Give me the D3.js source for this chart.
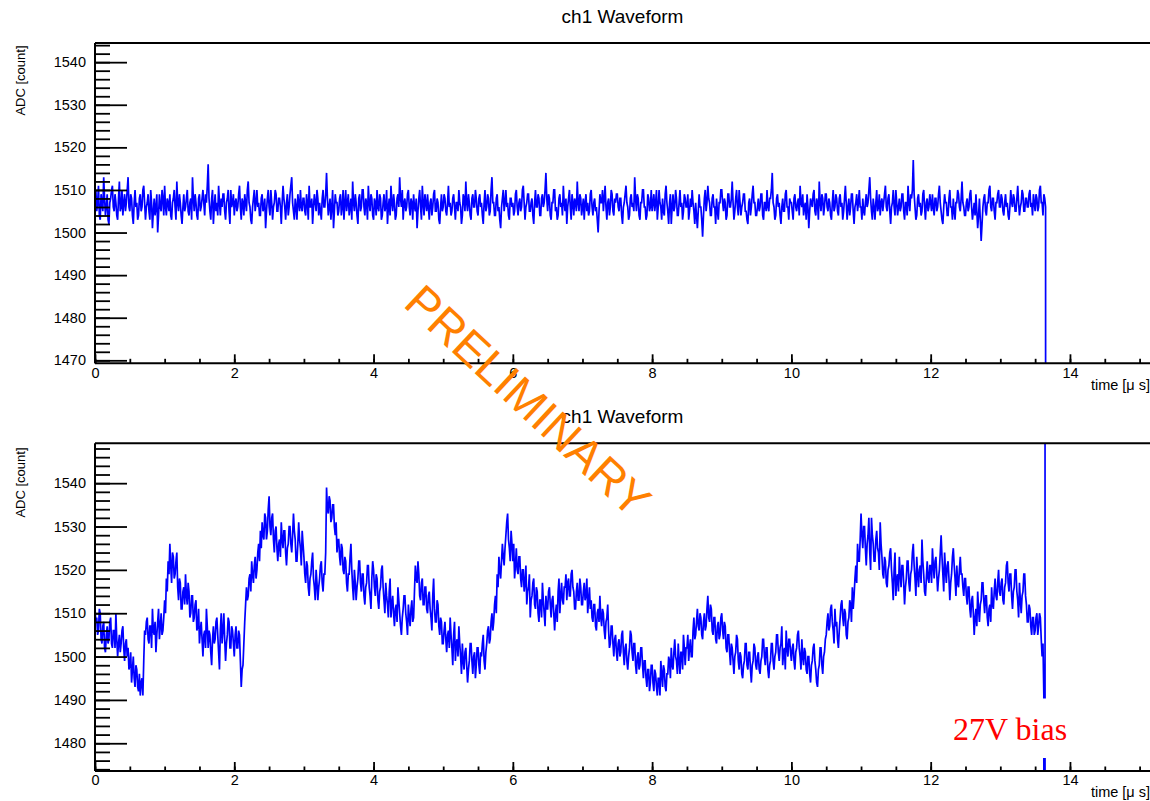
<!DOCTYPE html>
<html>
<head>
<meta charset="utf-8">
<title>ch1 Waveform</title>
<script src="https://cdn.jsdelivr.net/npm/d3@7"></script>
<style>
  html, body { margin: 0; padding: 0; background: #fff; }
  svg { display: block; font-family: "Liberation Sans", Arial, Helvetica, sans-serif; }
</style>
</head>
<body>
<svg id="chart" width="1150" height="801"></svg>
<script>
// Sampling period of the digitizer, in microseconds
const SAMPLE_US = 0.0125;

// Axis ranges and tick labels
const TIME_RANGE = [0, 15.6];
const TIME_TICKS = [0, 2, 4, 6, 8, 10, 12, 14];
const TOP_ADC_RANGE = [1469.3, 1544.5];
const TOP_ADC_TICKS = [1470, 1480, 1490, 1500, 1510, 1520, 1530, 1540];
const BOTTOM_ADC_RANGE = [1473.6, 1549.2];
const BOTTOM_ADC_TICKS = [1480, 1490, 1500, 1510, 1520, 1530, 1540];

const TITLE = "ch1 Waveform";
const X_TITLE = "time [\u03bc s]";
const Y_TITLE = "ADC [count]";
const BIAS_LABEL = "27V bias";
const WATERMARK = "PRELIMINARY";

// ch1 samples, upper waveform (ADC counts), 40 samples per 0.5 us row
const ch1Upper = [
  1508,1510,1505,1507,1511,1504,1503,1509,1507,1505,1513,1508,1504,1506,1509,1503,1502,1507,1508,1510,
  1511,1506,1505,1509,1507,1504,1503,1508,1512,1505,1506,1510,1504,1507,1509,1505,1507,1510,1513,1506,
  1505,1509,1508,1504,1502,1507,1510,1506,1507,1503,1504,1508,1509,1505,1506,1510,1511,1507,1503,1506,
  1507,1509,1505,1503,1510,1507,1501,1505,1508,1504,1506,1509,1500,1504,1509,1506,1505,1510,1508,1504,
  1511,1506,1504,1508,1507,1505,1509,1504,1503,1507,1508,1510,1506,1503,1512,1507,1505,1509,1507,1504,
  1502,1506,1509,1505,1506,1508,1510,1505,1504,1507,1508,1503,1513,1508,1505,1509,1507,1504,1503,1508,
  1509,1505,1506,1508,1510,1507,1504,1509,1507,1511,1516,1508,1505,1503,1508,1510,1502,1506,1509,1505,
  1507,1504,1511,1507,1504,1508,1506,1509,1509,1505,1503,1507,1508,1510,1505,1502,1510,1506,1507,1509,
  1504,1507,1508,1505,1506,1509,1511,1506,1503,1508,1507,1504,1509,1507,1505,1510,1512,1507,1506,1503,
  1502,1506,1508,1510,1505,1507,1510,1506,1507,1504,1504,1508,1509,1505,1506,1508,1501,1505,1508,1510,
  1506,1504,1510,1507,1503,1506,1507,1510,1509,1505,1505,1508,1508,1506,1502,1507,1511,1508,1506,1503,
  1507,1509,1504,1506,1509,1511,1513,1507,1505,1503,1508,1506,1503,1509,1507,1505,1510,1506,1505,1508,
  1508,1505,1504,1509,1507,1503,1511,1506,1506,1508,1502,1506,1509,1507,1505,1510,1508,1504,1507,1505,
  1503,1508,1510,1506,1506,1509,1514,1508,1504,1506,1508,1503,1506,1510,1501,1505,1509,1507,1507,1504,
  1505,1508,1509,1504,1506,1510,1503,1507,1510,1505,1507,1509,1504,1506,1508,1503,1512,1507,1505,1509,
  1507,1504,1502,1508,1509,1505,1506,1510,1510,1506,1504,1508,1507,1503,1511,1507,1505,1509,1508,1504,
  1503,1508,1507,1504,1510,1506,1505,1509,1508,1503,1504,1507,1509,1505,1506,1510,1502,1506,1508,1504,
  1511,1507,1505,1509,1507,1503,1504,1508,1509,1506,1513,1508,1506,1510,1503,1507,1508,1505,1506,1509,
  1510,1506,1504,1508,1507,1503,1509,1506,1505,1508,1501,1505,1508,1510,1506,1503,1511,1507,1504,1509,
  1507,1505,1509,1506,1503,1507,1508,1504,1506,1509,1510,1505,1505,1508,1507,1503,1502,1506,1509,1505,
  1506,1509,1508,1505,1504,1507,1511,1506,1507,1504,1505,1508,1509,1506,1503,1507,1507,1505,1510,1507,
  1506,1502,1504,1509,1508,1505,1512,1507,1505,1509,1507,1504,1503,1508,1509,1506,1506,1510,1508,1505,
  1504,1508,1509,1506,1507,1504,1502,1507,1510,1505,1506,1509,1508,1504,1505,1510,1513,1507,1507,1504,
  1504,1508,1509,1505,1506,1503,1501,1506,1508,1510,1505,1507,1510,1506,1507,1504,1503,1508,1508,1506,
  1507,1504,1505,1509,1510,1506,1504,1507,1508,1505,1506,1510,1511,1507,1503,1506,1507,1509,1509,1505,
  1505,1507,1508,1504,1502,1507,1510,1506,1506,1509,1508,1504,1504,1508,1509,1506,1507,1510,1514,1508,
  1505,1509,1508,1504,1503,1507,1507,1510,1510,1505,1506,1503,1504,1508,1509,1506,1507,1504,1511,1507,
  1505,1508,1502,1506,1508,1510,1506,1503,1509,1507,1504,1508,1507,1505,1512,1507,1505,1509,1508,1504,
  1506,1508,1503,1507,1509,1505,1507,1504,1505,1509,1510,1506,1504,1507,1508,1505,1506,1503,1500,1505,
  1509,1507,1507,1510,1505,1508,1511,1506,1503,1507,1508,1504,1506,1510,1509,1505,1504,1508,1507,1509,
  1509,1506,1505,1508,1508,1504,1502,1506,1507,1509,1511,1507,1506,1503,1504,1508,1509,1506,1507,1505,
  1513,1508,1505,1509,1508,1504,1503,1507,1507,1510,1510,1506,1506,1503,1504,1509,1508,1505,1506,1510,
  1505,1507,1509,1505,1507,1510,1503,1506,1510,1507,1506,1503,1508,1505,1504,1509,1511,1507,1505,1502,
  1507,1509,1502,1506,1509,1505,1506,1510,1508,1504,1504,1507,1510,1506,1507,1503,1505,1509,1508,1506,
  1506,1509,1503,1505,1508,1506,1510,1507,1505,1502,1507,1504,1501,1505,1509,1506,1506,1503,1499,1504,
  1508,1510,1505,1507,1511,1508,1507,1504,1504,1508,1509,1506,1506,1502,1508,1505,1503,1507,1507,1510,
  1510,1507,1505,1508,1507,1503,1504,1509,1509,1506,1506,1508,1512,1507,1503,1505,1508,1510,1506,1504,
  1510,1507,1504,1506,1507,1509,1509,1505,1505,1503,1502,1507,1508,1504,1506,1509,1511,1507,1507,1504,
  1504,1506,1508,1505,1506,1509,1509,1504,1503,1507,1507,1505,1510,1506,1505,1508,1508,1510,1514,1507,
  1506,1503,1504,1508,1509,1506,1507,1504,1502,1506,1508,1505,1505,1509,1510,1506,1506,1503,1508,1507,
  1507,1505,1503,1508,1509,1506,1505,1507,1508,1504,1511,1507,1506,1509,1504,1506,1507,1503,1509,1506,
  1501,1505,1508,1507,1506,1509,1510,1505,1504,1508,1507,1503,1512,1507,1505,1509,1508,1504,1506,1509,
  1509,1506,1505,1508,1507,1504,1503,1507,1510,1505,1506,1509,1508,1505,1504,1508,1509,1506,1507,1503,
  1505,1508,1511,1507,1503,1506,1508,1504,1506,1509,1509,1505,1502,1506,1507,1509,1505,1507,1510,1506,
  1506,1503,1508,1505,1504,1507,1509,1506,1507,1510,1513,1508,1505,1503,1508,1506,1503,1507,1510,1505,
  1506,1509,1504,1507,1508,1505,1507,1509,1511,1506,1505,1508,1509,1505,1502,1506,1507,1510,1506,1504,
  1510,1507,1504,1506,1508,1505,1506,1509,1509,1505,1503,1507,1507,1504,1511,1507,1505,1509,1508,1510,
  1517,1509,1506,1503,1504,1508,1509,1506,1507,1504,1505,1509,1510,1506,1503,1507,1508,1505,1506,1509,
  1507,1505,1509,1506,1504,1508,1508,1505,1506,1509,1511,1507,1505,1503,1502,1506,1509,1507,1507,1504,
  1504,1508,1510,1506,1506,1503,1508,1505,1503,1507,1507,1510,1509,1506,1505,1508,1512,1507,1506,1504,
  1504,1507,1508,1505,1506,1509,1510,1506,1503,1505,1507,1504,1509,1505,1501,1504,1508,1503,1498,1502,
  1506,1508,1509,1505,1504,1507,1507,1510,1511,1506,1505,1508,1508,1505,1503,1507,1507,1509,1510,1506,
  1506,1509,1508,1505,1504,1507,1509,1506,1507,1504,1503,1506,1510,1507,1506,1509,1508,1505,1505,1508,
  1511,1507,1504,1506,1507,1510,1509,1505,1505,1508,1508,1506,1506,1509,1510,1506,1507,1504,1509,1507,
  1505,1509,1508,1505,1506,1510,1511,1507,1507,1504,1509,1508,1506,0
];

// ch1 samples, lower waveform (ADC counts), 40 samples per 0.5 us row
const ch1Lower = [
  1511,1508,1509,1505,1506,1511,1510,1504,1503,1507,1508,1502,1501,1505,1507,1503,1504,1508,1509,1503,
  1502,1506,1506,1502,1510,1504,1500,1503,1505,1501,1503,1506,1507,1502,1499,1503,1504,1500,1502,1497,
  1498,1501,1494,1497,1500,1495,1493,1498,1497,1493,1492,1496,1491,1494,1495,1491,1499,1506,1505,1508,
  1509,1504,1503,1507,1507,1502,1511,1506,1505,1508,1501,1505,1508,1511,1504,1507,1510,1505,1506,1509,
  1513,1510,1518,1515,1522,1519,1526,1521,1517,1524,1523,1518,1519,1522,1524,1516,1513,1518,1517,1511,
  1511,1515,1516,1512,1519,1514,1512,1517,1515,1509,1510,1514,1514,1508,1509,1512,1513,1506,1507,1511,
  1503,1506,1508,1504,1500,1505,1506,1502,1511,1507,1502,1506,1505,1501,1498,1504,1507,1503,1504,1508,
  1509,1505,1501,1497,1506,1510,1503,1506,1510,1504,1499,1503,1505,1509,1508,1502,1502,1507,1506,1503,
  1500,1505,1507,1502,1502,1506,1505,1499,1493,1497,1498,1503,1508,1512,1516,1513,1514,1518,1519,1515,
  1522,1519,1517,1521,1523,1518,1520,1524,1526,1522,1529,1525,1531,1528,1527,1533,1532,1527,1529,1534,
  1537,1530,1528,1532,1533,1527,1524,1529,1530,1525,1522,1526,1527,1523,1531,1527,1525,1529,1529,1524,
  1521,1525,1526,1530,1530,1526,1524,1528,1533,1529,1527,1522,1522,1526,1531,1527,1525,1521,1529,1526,
  1523,1519,1517,1522,1521,1516,1514,1518,1519,1522,1524,1518,1516,1513,1520,1517,1513,1516,1518,1521,
  1522,1517,1515,1519,1519,1524,1539,1534,1533,1537,1536,1531,1532,1535,1535,1530,1528,1531,1524,1527,
  1527,1523,1521,1526,1525,1520,1519,1523,1522,1517,1515,1519,1519,1523,1526,1520,1516,1513,1520,1517,
  1513,1516,1518,1522,1522,1517,1515,1519,1519,1514,1512,1516,1517,1521,1521,1516,1514,1511,1518,1522,
  1520,1516,1514,1519,1518,1513,1511,1515,1516,1520,1521,1516,1513,1510,1517,1514,1512,1509,1515,1518,
  1509,1512,1514,1510,1507,1511,1512,1508,1516,1513,1510,1507,1505,1509,1511,1514,1514,1510,1508,1505,
  1512,1509,1507,1511,1513,1508,1509,1515,1521,1518,1517,1522,1519,1514,1513,1517,1518,1512,1512,1516,
  1516,1511,1510,1514,1515,1511,1509,1506,1514,1518,1511,1508,1508,1513,1512,1507,1505,1509,1508,1503,
  1503,1506,1508,1504,1501,1505,1506,1502,1509,1505,1502,1498,1505,1508,1499,1503,1504,1500,1507,1503,
  1500,1496,1503,1499,1497,1501,1502,1498,1494,1497,1499,1503,1503,1499,1496,1500,1501,1495,1498,1502,
  1502,1498,1496,1501,1500,1503,1505,1499,1497,1501,1503,1506,1507,1503,1504,1508,1510,1506,1508,1512,
  1514,1510,1519,1516,1523,1520,1518,1522,1526,1523,1521,1525,1528,1531,1533,1527,1525,1522,1529,1526,
  1522,1526,1518,1521,1525,1520,1519,1523,1523,1518,1516,1520,1520,1515,1517,1521,1512,1515,1516,1519,
  1509,1513,1514,1517,1518,1512,1511,1516,1515,1510,1508,1513,1513,1509,1517,1513,1510,1507,1514,1511,
  1511,1515,1516,1512,1509,1513,1514,1510,1506,1510,1512,1508,1515,1518,1510,1514,1517,1513,1512,1516,
  1516,1519,1513,1517,1518,1514,1514,1519,1520,1516,1515,1511,1511,1515,1517,1513,1513,1518,1516,1512,
  1512,1515,1517,1513,1514,1518,1510,1513,1516,1511,1513,1509,1508,1512,1512,1507,1506,1510,1511,1508,
  1514,1509,1507,1511,1510,1506,1504,1508,1509,1512,1506,1502,1503,1507,1507,1503,1500,1504,1505,1501,
  1499,1503,1504,1500,1501,1505,1506,1501,1498,1502,1503,1499,1497,1500,1502,1506,1505,1501,1499,1503,
  1503,1498,1496,1500,1501,1497,1498,1502,1502,1498,1495,1499,1499,1495,1493,1497,1497,1492,1494,1498,
  1498,1494,1492,1497,1496,1493,1491,1495,1495,1491,1499,1496,1493,1498,1497,1493,1492,1496,1496,1500,
  1499,1495,1502,1498,1497,1501,1504,1500,1499,1496,1503,1499,1496,1501,1501,1497,1505,1502,1498,1502,
  1502,1505,1499,1502,1504,1500,1500,1506,1509,1504,1505,1508,1511,1507,1506,1510,1509,1505,1504,1508,
  1510,1506,1507,1511,1514,1509,1508,1512,1511,1506,1505,1509,1509,1504,1503,1507,1508,1504,1505,1509,
  1510,1506,1504,1508,1507,1502,1501,1505,1505,1501,1498,1503,1502,1499,1496,1500,1501,1505,1504,1499,
  1497,1501,1500,1496,1495,1498,1499,1503,1503,1498,1497,1501,1501,1497,1494,1498,1499,1503,1502,1498,
  1497,1500,1501,1497,1496,1499,1500,1504,1504,1500,1498,1502,1502,1497,1495,1498,1499,1503,1503,1499,
  1497,1500,1501,1505,1505,1501,1499,1502,1503,1507,1498,1501,1502,1497,1506,1502,1500,1504,1504,1501,
  1499,1502,1503,1499,1497,1501,1502,1505,1506,1502,1500,1497,1504,1500,1498,1502,1501,1497,1496,1500,
  1500,1496,1494,1498,1499,1502,1503,1499,1497,1494,1493,1497,1498,1502,1502,1498,1496,1500,1501,1504,
  1505,1508,1510,1506,1507,1511,1512,1508,1506,1503,1511,1507,1508,1504,1502,1506,1509,1512,1513,1509,
  1507,1511,1510,1505,1504,1508,1509,1513,1512,1508,1516,1511,1514,1518,1521,1517,1526,1522,1522,1527,
  1533,1528,1525,1530,1530,1525,1521,1526,1528,1532,1524,1520,1532,1528,1526,1522,1522,1527,1529,1525,
  1524,1520,1531,1526,1523,1519,1518,1523,1522,1517,1516,1520,1521,1524,1525,1520,1517,1513,1520,1524,
  1514,1518,1519,1515,1523,1519,1516,1521,1521,1517,1512,1516,1518,1522,1522,1517,1515,1519,1520,1524,
  1526,1521,1518,1514,1523,1519,1516,1520,1521,1517,1527,1522,1519,1515,1514,1518,1522,1518,1517,1521,
  1521,1517,1525,1521,1518,1522,1523,1519,1515,1518,1520,1524,1528,1523,1519,1515,1524,1520,1517,1521,
  1522,1518,1513,1517,1519,1523,1525,1521,1518,1514,1521,1517,1516,1520,1523,1519,1519,1516,1514,1518,
  1518,1514,1512,1516,1516,1511,1509,1513,1514,1510,1505,1509,1511,1507,1515,1511,1508,1512,1513,1517,
  1517,1513,1510,1514,1514,1509,1507,1511,1512,1508,1516,1512,1511,1515,1518,1514,1513,1517,1520,1515,
  1514,1517,1518,1513,1512,1516,1517,1521,1522,1517,1515,1519,1519,1514,1511,1515,1516,1520,1520,1515,
  1513,1509,1517,1513,1510,1514,1515,1519,1519,1514,1512,1508,1508,1512,1511,1507,1505,1509,1509,1505,
  1506,1509,1510,1505,1507,1510,1509,1504,1500,1503,1491,0,4095
];

// Frame geometry
const FRAME_LEFT = 95;
const PX_PER_US = 69.64;
const WIDTH = 1150;

const svg = d3.select("#chart");

const x = d3.scaleLinear()
  .domain(TIME_RANGE)
  .range([FRAME_LEFT, FRAME_LEFT + (TIME_RANGE[1] - TIME_RANGE[0]) * PX_PER_US]);

const minorTime = d3.range(0, TIME_RANGE[1], 0.5);

const panels = [
  { id: "upper", data: ch1Upper, domain: TOP_ADC_RANGE, ticks: TOP_ADC_TICKS,
    top: 43, bottom: 363.3, titleY: 23, xTitleY: 390, yTitleY: 80.5 },
  { id: "lower", data: ch1Lower, domain: BOTTOM_ADC_RANGE, ticks: BOTTOM_ADC_TICKS,
    top: 443.3, bottom: 771, titleY: 423, xTitleY: 797, yTitleY: 482.5 }
];

function styleAxis(g, fontSize) {
  g.attr("font-family", null).attr("font-size", null);
  g.select(".domain").remove();
  g.selectAll(".tick line").attr("stroke", "#000").attr("stroke-width", 1.8);
  g.selectAll(".tick text")
    .attr("fill", "#000")
    .style("font-family", "'Liberation Sans', Arial, Helvetica, sans-serif")
    .style("font-size", fontSize + "px");
}

panels.forEach(p => {
  const y = d3.scaleLinear().domain(p.domain).range([p.bottom, p.top]);
  const g = svg.append("g").attr("class", "panel-" + p.id);

  // clip region for the trace
  const clipId = "clip-" + p.id;
  svg.append("defs").append("clipPath").attr("id", clipId)
    .append("rect")
    .attr("x", FRAME_LEFT).attr("y", p.top)
    .attr("width", WIDTH - FRAME_LEFT + 10).attr("height", p.bottom - p.top);

  // waveform trace
  const line = d3.line()
    .x((d, i) => x(i * SAMPLE_US))
    .y(d => y(d));
  g.append("path")
    .datum(p.data)
    .attr("clip-path", `url(#${clipId})`)
    .attr("fill", "none")
    .attr("stroke", "#0000ff")
    .attr("stroke-width", 1.7)
    .attr("stroke-linejoin", "miter")
    .attr("d", line);

  // y axis: minor ticks every 2 counts, major every 10
  const minorAdc = d3.range(Math.ceil(p.domain[0] / 2) * 2, p.domain[1], 2);
  g.append("g").attr("transform", `translate(${FRAME_LEFT},0)`)
    .call(d3.axisRight(y).tickValues(minorAdc).tickSize(15).tickSizeOuter(0).tickFormat(""))
    .call(a => styleAxis(a, 14.5));
  g.append("g").attr("transform", `translate(${FRAME_LEFT},0)`)
    .call(d3.axisRight(y).tickValues(p.ticks).tickSize(32).tickSizeOuter(0).tickFormat(""))
    .call(a => styleAxis(a, 14.5));
  g.append("g").attr("transform", `translate(${FRAME_LEFT},0)`)
    .call(d3.axisLeft(y).tickValues(p.ticks).tickSize(0).tickPadding(9).tickFormat(d3.format("d")))
    .call(a => styleAxis(a, 14.5));

  // x axis: minor ticks every 0.5 us, major every 2 us
  g.append("g").attr("transform", `translate(0,${p.bottom})`)
    .call(d3.axisTop(x).tickValues(minorTime).tickSize(4.5).tickSizeOuter(0).tickFormat(""))
    .call(a => styleAxis(a, 14.5));
  g.append("g").attr("transform", `translate(0,${p.bottom})`)
    .call(d3.axisTop(x).tickValues(TIME_TICKS).tickSize(9).tickSizeOuter(0).tickFormat(""))
    .call(a => styleAxis(a, 14.5));
  g.append("g").attr("transform", `translate(0,${p.bottom})`)
    .call(d3.axisBottom(x).tickValues(TIME_TICKS).tickSize(0).tickPadding(4).tickFormat(d3.format("d")))
    .call(a => styleAxis(a, 14.5));

  // frame lines
  const frame = g.append("g").attr("stroke", "#000").attr("stroke-width", 2).attr("fill", "none");
  frame.append("line").attr("x1", FRAME_LEFT).attr("x2", FRAME_LEFT).attr("y1", p.top).attr("y2", p.bottom);
  frame.append("line").attr("x1", FRAME_LEFT).attr("x2", WIDTH + 5).attr("y1", p.bottom).attr("y2", p.bottom);
  frame.append("line").attr("x1", FRAME_LEFT).attr("x2", WIDTH + 5).attr("y1", p.top).attr("y2", p.top);

  // titles
  g.append("text")
    .attr("x", 622.5).attr("y", p.titleY)
    .attr("text-anchor", "middle")
    .style("font-size", "19px")
    .attr("fill", "#000")
    .text(TITLE);
  g.append("text")
    .attr("x", 1150).attr("y", p.xTitleY)
    .attr("text-anchor", "end")
    .style("font-size", "14.5px")
    .attr("fill", "#000")
    .text(X_TITLE);
  g.append("text")
    .attr("transform", `translate(24.5,${p.yTitleY}) rotate(-90)`)
    .attr("text-anchor", "middle")
    .style("font-size", "13px")
    .attr("fill", "#000")
    .text(Y_TITLE);
});

// bias annotation on a white pave in the lower panel
const pave = svg.append("g").attr("class", "bias-label");
pave.append("rect")
  .attr("x", 935).attr("y", 698.5)
  .attr("width", 150).attr("height", 59.5)
  .attr("fill", "#fff");
pave.append("text")
  .attr("x", 953).attr("y", 740)
  .style("font-family", "'Liberation Serif', 'Times New Roman', serif")
  .style("font-size", "32px")
  .attr("fill", "#ff0000")
  .text(BIAS_LABEL);

// watermark across both panels
svg.append("text")
  .attr("transform", "translate(528,401) rotate(43)")
  .attr("text-anchor", "middle")
  .attr("dominant-baseline", "central")
  .style("font-size", "46.5px")
  .attr("fill", "#ff8000")
  .text(WATERMARK);
</script>
</body>
</html>
